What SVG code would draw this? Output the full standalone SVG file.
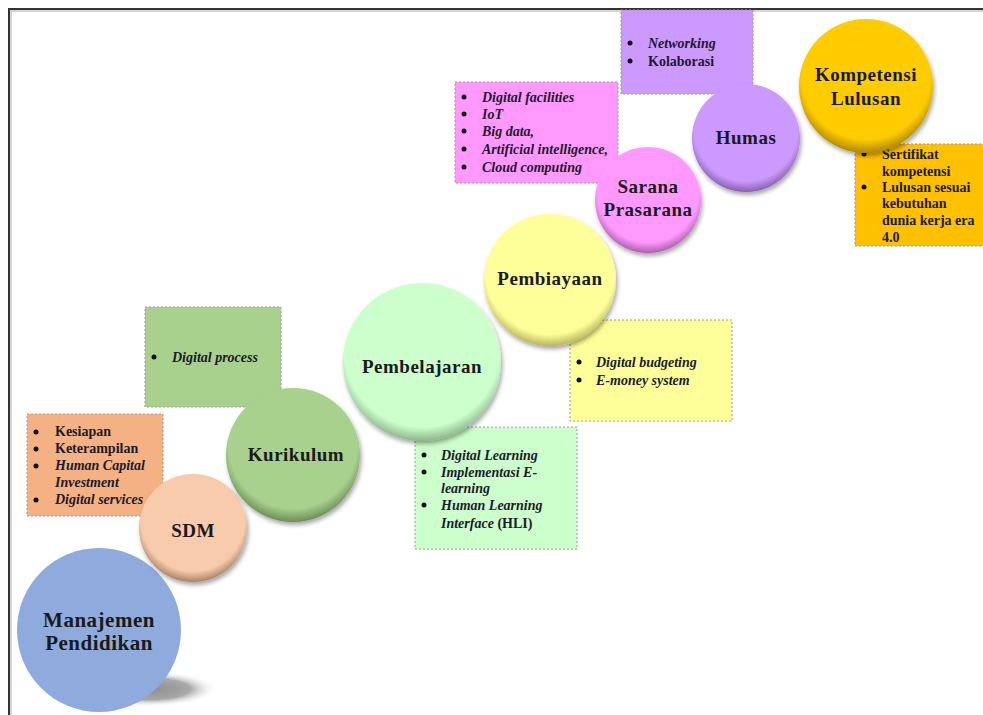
<svg xmlns="http://www.w3.org/2000/svg" width="983" height="715" viewBox="0 0 983 715">
<defs>
<style>
.lbl{font-family:"Liberation Serif","Times New Roman",serif;font-weight:bold;fill:#1a1a1a;text-anchor:middle;font-size:19px;letter-spacing:0.5px}
.bt{font-family:"Liberation Serif","Times New Roman",serif;font-weight:bold;fill:#1a1a2a;font-size:14px}
.it{font-style:italic}
.box{stroke:#9a9a9a;stroke-width:1;stroke-dasharray:2,2}
.bul{fill:#111}
.c{filter:url(#sh)}
</style>
<filter id="sh" x="-20%" y="-20%" width="150%" height="150%">
<feDropShadow dx="1.5" dy="3" stdDeviation="2" flood-color="#000" flood-opacity="0.35"/>
</filter>
<radialGradient id="gSDM" cx="0.5" cy="0.42" r="0.6"><stop offset="0" stop-color="#F8CBAD"/><stop offset="0.8" stop-color="#F8CBAD"/><stop offset="1" stop-color="#9c7358"/></radialGradient>
<radialGradient id="gKur" cx="0.5" cy="0.42" r="0.6"><stop offset="0" stop-color="#A9D18E"/><stop offset="0.8" stop-color="#A9D18E"/><stop offset="1" stop-color="#5f7f4a"/></radialGradient>
<radialGradient id="gPem" cx="0.5" cy="0.42" r="0.6"><stop offset="0" stop-color="#CCFFCC"/><stop offset="0.82" stop-color="#CCFFCC"/><stop offset="1" stop-color="#7fa57f"/></radialGradient>
<radialGradient id="gBia" cx="0.5" cy="0.42" r="0.6"><stop offset="0" stop-color="#FFFF99"/><stop offset="0.82" stop-color="#FFFF99"/><stop offset="1" stop-color="#a8a650"/></radialGradient>
<radialGradient id="gSar" cx="0.5" cy="0.42" r="0.6"><stop offset="0" stop-color="#FF99FF"/><stop offset="0.8" stop-color="#FF99FF"/><stop offset="1" stop-color="#9c539c"/></radialGradient>
<radialGradient id="gHum" cx="0.5" cy="0.42" r="0.6"><stop offset="0" stop-color="#CC99FF"/><stop offset="0.8" stop-color="#CC99FF"/><stop offset="1" stop-color="#7a559e"/></radialGradient>
<radialGradient id="gKom" cx="0.5" cy="0.42" r="0.6"><stop offset="0" stop-color="#FFCC00"/><stop offset="0.8" stop-color="#FFCC00"/><stop offset="1" stop-color="#a07a00"/></radialGradient>
<radialGradient id="gShadow" cx="0.5" cy="0.5" r="0.5"><stop offset="0" stop-color="#8c8c8c"/><stop offset="0.6" stop-color="#a8a8a8"/><stop offset="1" stop-color="#ffffff" stop-opacity="0"/></radialGradient>
</defs>
<rect width="983" height="715" fill="#ffffff"/>
<g id="frame">
<path d="M11,715 V11 H983" fill="none" stroke="#c8c8c8" stroke-width="1.5"/>
<path d="M9,715 V9 H983" fill="none" stroke="#333333" stroke-width="2"/>
</g>
<g id="connectors"></g>

<g id="box-sdm">
<rect class="box" x="27" y="414" width="136" height="102" fill="#F4B183"/>
<circle class="bul" cx="36" cy="432" r="2.5"/><circle class="bul" cx="36" cy="449" r="2.5"/><circle class="bul" cx="36" cy="466" r="2.5"/><circle class="bul" cx="36" cy="500" r="2.5"/>
<text class="bt" x="55" y="436">Kesiapan</text>
<text class="bt" x="55" y="453">Keterampilan</text>
<text class="bt it" x="55" y="470">Human Capital</text>
<text class="bt it" x="55" y="487">Investment</text>
<text class="bt it" x="55" y="504">Digital services</text>
</g>

<g id="box-kurikulum">
<rect class="box" x="145" y="307" width="136" height="100" fill="#A9D18E"/>
<circle class="bul" cx="154" cy="357" r="2.5"/>
<text class="bt it" x="172" y="362">Digital process</text>
</g>

<g id="box-pembelajaran">
<rect class="box" x="415" y="427" width="162" height="122" fill="#CCFFCC"/>
<circle class="bul" cx="424" cy="455" r="2.5"/><circle class="bul" cx="424" cy="472" r="2.5"/><circle class="bul" cx="424" cy="505" r="2.5"/>
<text class="bt it" x="441" y="460">Digital Learning</text>
<text class="bt it" x="441" y="477">Implementasi E-</text>
<text class="bt it" x="441" y="493">learning</text>
<text class="bt it" x="441" y="510">Human Learning</text>
<text class="bt" x="441" y="528"><tspan class="it">Interface</tspan> (HLI)</text>
</g>

<g id="box-pembiayaan">
<rect class="box" x="570" y="320" width="162" height="101" fill="#FFFF99"/>
<circle class="bul" cx="579" cy="362" r="2.5"/><circle class="bul" cx="579" cy="380" r="2.5"/>
<text class="bt it" x="596" y="367">Digital budgeting</text>
<text class="bt it" x="596" y="385">E-money system</text>
</g>

<g id="box-sarana">
<rect class="box" x="455" y="82" width="163" height="101" fill="#FF99FF"/>
<circle class="bul" cx="464" cy="97" r="2.5"/><circle class="bul" cx="464" cy="114" r="2.5"/><circle class="bul" cx="464" cy="131" r="2.5"/><circle class="bul" cx="464" cy="149" r="2.5"/><circle class="bul" cx="464" cy="167" r="2.5"/>
<text class="bt it" x="482" y="102">Digital facilities</text>
<text class="bt it" x="482" y="119">IoT</text>
<text class="bt it" x="482" y="136">Big data,</text>
<text class="bt it" x="482" y="154">Artificial intelligence,</text>
<text class="bt it" x="482" y="172">Cloud computing</text>
</g>

<g id="box-humas">
<rect class="box" x="621" y="10" width="132" height="84" fill="#CC99FF"/>
<circle class="bul" cx="630" cy="43" r="2.5"/><circle class="bul" cx="630" cy="61" r="2.5"/>
<text class="bt it" x="648" y="48">Networking</text>
<text class="bt" x="648" y="66">Kolaborasi</text>
</g>

<g id="box-kompetensi">
<rect class="box" x="855" y="144" width="130" height="102" fill="#FFC000"/>
<circle class="bul" cx="864" cy="154" r="2.5"/><circle class="bul" cx="864" cy="187" r="2.5"/>
<text class="bt" x="882" y="159">Sertifikat</text>
<text class="bt" x="882" y="176">kompetensi</text>
<text class="bt" x="882" y="192">Lulusan sesuai</text>
<text class="bt" x="882" y="208">kebutuhan</text>
<text class="bt" x="882" y="225">dunia kerja era</text>
<text class="bt" x="882" y="242">4.0</text>
</g>

<g id="node-manajemen">
<ellipse cx="148" cy="689" rx="70" ry="18" fill="url(#gShadow)"/>
<circle cx="99" cy="630" r="82" fill="#8FAADC"/>
<text class="lbl" x="99" y="627" style="font-size:21px">Manajemen</text>
<text class="lbl" x="99" y="650" style="font-size:21px">Pendidikan</text>
</g>

<g id="node-sdm">
<circle class="c" cx="193" cy="528" r="54" fill="url(#gSDM)"/>
<text class="lbl" x="193" y="537">SDM</text>
</g>

<g id="node-kurikulum">
<circle class="c" cx="293" cy="455" r="67" fill="url(#gKur)"/>
<text class="lbl" x="296" y="461">Kurikulum</text>
</g>

<g id="node-pembelajaran">
<circle class="c" cx="422" cy="362" r="79" fill="url(#gPem)"/>
<text class="lbl" x="422" y="373">Pembelajaran</text>
</g>

<g id="node-pembiayaan">
<circle class="c" cx="550" cy="280" r="66" fill="url(#gBia)"/>
<text class="lbl" x="550" y="285">Pembiayaan</text>
</g>

<g id="node-sarana">
<circle class="c" cx="648" cy="200" r="53" fill="url(#gSar)"/>
<text class="lbl" x="648" y="193">Sarana</text>
<text class="lbl" x="648" y="216">Prasarana</text>
</g>

<g id="node-humas">
<circle class="c" cx="746" cy="138" r="54" fill="url(#gHum)"/>
<text class="lbl" x="746" y="144">Humas</text>
</g>

<g id="node-kompetensi">
<circle class="c" cx="866" cy="86" r="67" fill="url(#gKom)"/>
<text class="lbl" x="866" y="81">Kompetensi</text>
<text class="lbl" x="866" y="105">Lulusan</text>
</g>
</svg>
